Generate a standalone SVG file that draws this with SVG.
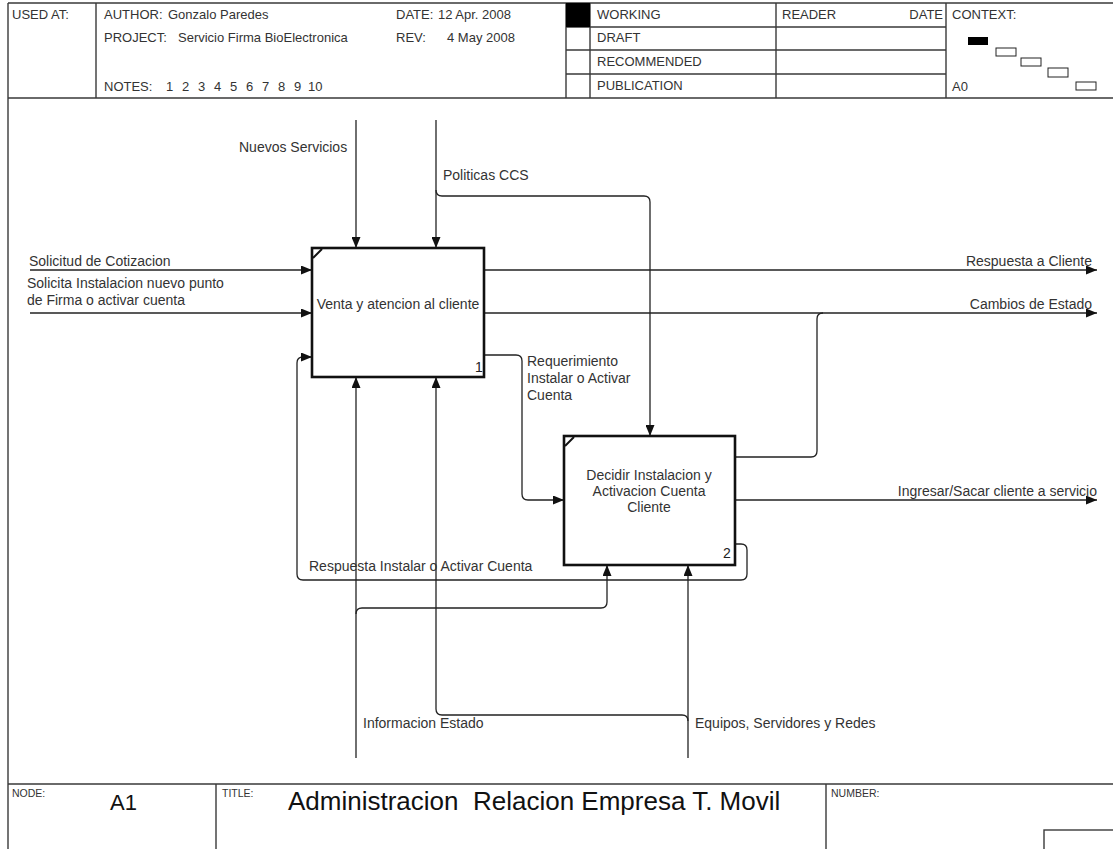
<svg xmlns="http://www.w3.org/2000/svg" width="1113" height="849" viewBox="0 0 1113 849">
  <style>
    .frame { fill: none; stroke: #3a3a3a; stroke-width: 1.4; }
    .hdr { font-family: "Liberation Sans", Arial, sans-serif; font-size: 13px; fill: #333; }
    .small { font-family: "Liberation Sans", Arial, sans-serif; font-size: 10.5px; fill: #333; }
    .lbl { font-family: "Liberation Sans", Arial, sans-serif; font-size: 14px; fill: #333; }
    .big { font-family: "Liberation Sans", Arial, sans-serif; fill: #111; }
    .box { fill: #fff; stroke: #111; stroke-width: 2.6; }
    .corner { stroke: #111; stroke-width: 2; }
    .num { font-family: "Liberation Sans", Arial, sans-serif; font-size: 14px; fill: #222; }
    .wire { fill: none; stroke: #222; stroke-width: 1.3; }
    .ctx { fill: #fff; stroke: #222; stroke-width: 1; }
  </style>
  <defs>
    <marker id="arrow" markerUnits="userSpaceOnUse" markerWidth="11" markerHeight="9" refX="11" refY="4.5" orient="auto">
      <path d="M0,0 L11,4.5 L0,9 z" fill="#111"/>
    </marker>
  </defs>

  <rect width="1113" height="849" fill="#fff"/>

  <!-- page frame and header block -->
  <g id="header">
    <path class="frame" d="M8,3 H1113 M8,98 H1113 M8,3 V849 M96,3 V98 M566,3 V98 M590,3 V98 M776,3 V98 M946,3 V98 M566,27 H946 M566,50 H946 M566,74 H946"/>
    <rect x="566" y="3" width="24" height="24" fill="#000"/>
    <text class="hdr" x="12" y="19">USED AT:</text>
    <text class="hdr" x="104" y="19">AUTHOR:</text>
    <text class="hdr" x="168" y="19">Gonzalo Paredes</text>
    <text class="hdr" x="104" y="42">PROJECT:</text>
    <text class="hdr" x="178" y="42">Servicio Firma BioElectronica</text>
    <text class="hdr" x="104" y="91">NOTES:</text>
    <text class="hdr" y="91"><tspan x="166">1</tspan><tspan x="182">2</tspan><tspan x="198">3</tspan><tspan x="214">4</tspan><tspan x="230">5</tspan><tspan x="246">6</tspan><tspan x="262">7</tspan><tspan x="278">8</tspan><tspan x="294">9</tspan><tspan x="308">10</tspan></text>
    <text class="hdr" x="396" y="19">DATE:</text>
    <text class="hdr" x="438" y="19">12 Apr. 2008</text>
    <text class="hdr" x="396" y="42">REV:</text>
    <text class="hdr" x="447" y="42">4 May 2008</text>
    <text class="hdr" x="597" y="19">WORKING</text>
    <text class="hdr" x="597" y="42">DRAFT</text>
    <text class="hdr" x="597" y="66">RECOMMENDED</text>
    <text class="hdr" x="597" y="90">PUBLICATION</text>
    <text class="hdr" x="782" y="19">READER</text>
    <text class="hdr" x="943" y="19" text-anchor="end">DATE</text>
    <text class="hdr" x="952" y="19">CONTEXT:</text>
    <text class="hdr" x="952" y="91">A0</text>
    <rect x="968" y="37" width="20" height="8" fill="#000"/>
    <rect class="ctx" x="996" y="48" width="20" height="8"/>
    <rect class="ctx" x="1021" y="58" width="20" height="8"/>
    <rect class="ctx" x="1048" y="68" width="20" height="9"/>
    <rect class="ctx" x="1076" y="82" width="20" height="8"/>
  </g>

  <!-- footer block -->
  <g id="footer">
    <path class="frame" d="M8,784 H1113 M216,784 V849 M826,784 V849"/>
    <rect x="1044" y="830" width="80" height="30" fill="none" stroke="#3a3a3a" stroke-width="1.4"/>
    <text class="small" x="12" y="797">NODE:</text>
    <text class="big" x="110" y="810" font-size="22">A1</text>
    <text class="small" x="222" y="797">TITLE:</text>
    <text class="big" x="288" y="810" font-size="26" xml:space="preserve">Administracion  Relacion Empresa T. Movil</text>
    <text class="small" x="831" y="797">NUMBER:</text>
  </g>

  <!-- connectors -->
  <g id="connectors">
    <!-- controls from above -->
    <path class="wire" d="M356,120 V248" marker-end="url(#arrow)"/>
    <path class="wire" d="M436,120 V248" marker-end="url(#arrow)"/>
    <path class="wire" d="M436,190 Q436,196 442,196 H644 Q650,196 650,202 V436" marker-end="url(#arrow)"/>
    <!-- inputs from the left -->
    <path class="wire" d="M30,270 H312" marker-end="url(#arrow)"/>
    <path class="wire" d="M30,313 H312" marker-end="url(#arrow)"/>
    <!-- outputs to the right -->
    <path class="wire" d="M484,270 H1097" marker-end="url(#arrow)"/>
    <path class="wire" d="M484,313 H1097" marker-end="url(#arrow)"/>
    <path class="wire" d="M735,457 H811 Q817,457 817,451 V319 Q817,313 823,313"/>
    <path class="wire" d="M735,500 H1097" marker-end="url(#arrow)"/>
    <!-- box 1 to box 2 -->
    <path class="wire" d="M484,355 H516 Q522,355 522,361 V494 Q522,500 528,500 H564" marker-end="url(#arrow)"/>
    <!-- feedback from box 2 to box 1 -->
    <path class="wire" d="M735,544 H741 Q747,544 747,550 V574 Q747,580 741,580 H303 Q297,580 297,574 V363 Q297,357 303,357 H312" marker-end="url(#arrow)"/>
    <!-- mechanisms from below -->
    <path class="wire" d="M356,758 V377" marker-end="url(#arrow)"/>
    <path class="wire" d="M356,614 Q356,608 362,608 H601 Q607,608 607,602 V565" marker-end="url(#arrow)"/>
    <path class="wire" d="M688,758 V565" marker-end="url(#arrow)"/>
    <path class="wire" d="M688,721 Q688,715 682,715 H442 Q436,715 436,709 V377" marker-end="url(#arrow)"/>

    <text class="lbl" x="239" y="152">Nuevos Servicios</text>
    <text class="lbl" x="443" y="180">Politicas CCS</text>
    <text class="lbl" x="29" y="266">Solicitud de Cotizacion</text>
    <text class="lbl" x="27" y="288">Solicita Instalacion nuevo punto</text>
    <text class="lbl" x="27" y="305">de Firma o activar cuenta</text>
    <text class="lbl" x="1092" y="266" text-anchor="end">Respuesta a Cliente</text>
    <text class="lbl" x="1092" y="309" text-anchor="end">Cambios de Estado</text>
    <text class="lbl" x="1097" y="496" text-anchor="end">Ingresar/Sacar cliente a servicio</text>
    <text class="lbl" x="527" y="366">Requerimiento</text>
    <text class="lbl" x="527" y="383">Instalar o Activar</text>
    <text class="lbl" x="527" y="400">Cuenta</text>
    <text class="lbl" x="309" y="571">Respuesta Instalar o Activar Cuenta</text>
    <text class="lbl" x="363" y="728">Informacion Estado</text>
    <text class="lbl" x="695" y="728">Equipos, Servidores y Redes</text>
  </g>

  <!-- activity 1 -->
  <g id="node-1">
    <rect class="box" x="312" y="248" width="172" height="129"/>
    <line class="corner" x1="313" y1="258" x2="322" y2="249"/>
    <text class="lbl" x="398" y="309" text-anchor="middle">Venta y atencion al cliente</text>
    <text class="num" x="475" y="372">1</text>
  </g>

  <!-- activity 2 -->
  <g id="node-2">
    <rect class="box" x="564" y="436" width="171" height="129"/>
    <line class="corner" x1="565" y1="446" x2="574" y2="437"/>
    <text class="lbl" x="649" y="480" text-anchor="middle">Decidir Instalacion y</text>
    <text class="lbl" x="649" y="496" text-anchor="middle">Activacion Cuenta</text>
    <text class="lbl" x="649" y="512" text-anchor="middle">Cliente</text>
    <text class="num" x="723" y="558">2</text>
  </g>
</svg>
